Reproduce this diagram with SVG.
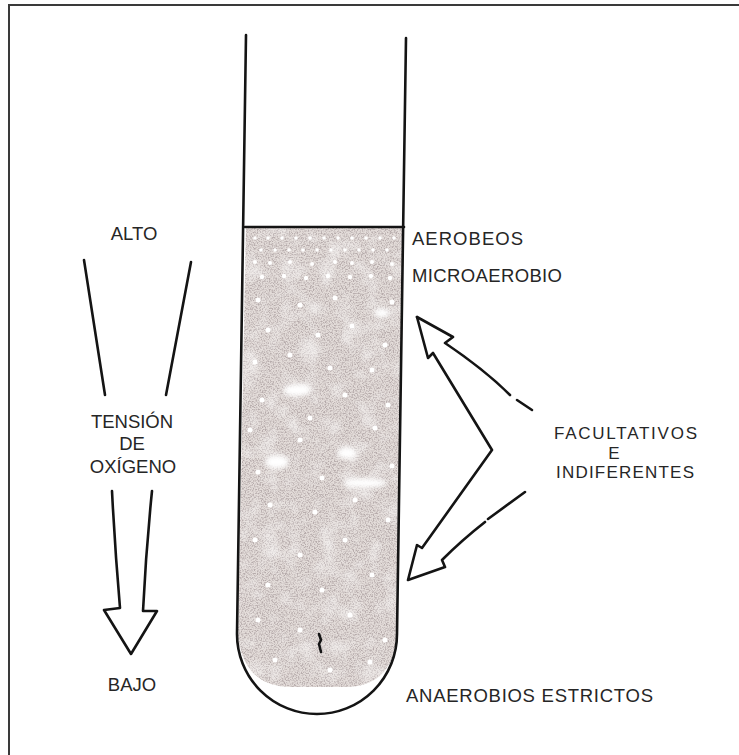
<svg xmlns="http://www.w3.org/2000/svg" width="739" height="755" viewBox="0 0 739 755">
  <style>
    .ink { fill: none; stroke: #141414; stroke-width: 2.6; stroke-linecap: round; stroke-linejoin: round; }
    .lbl { font-family: "Liberation Sans", Arial, sans-serif; font-size: 18.5px; fill: #262626; }
    .sm { font-size: 17px; }
    .mid { text-anchor: middle; }
    .spot { fill: #ffffff; }
  </style>
  <defs>
    <filter id="grain" x="0" y="0" width="1" height="1">
      <feTurbulence type="fractalNoise" baseFrequency="0.75" numOctaves="3" seed="7" result="n"/>
      <feColorMatrix in="n" type="matrix" values="0 0 0 0 0.46  0 0 0 0 0.40  0 0 0 0 0.40  3.2 0 0 0 -1.35"/>
    </filter>
    <filter id="mottle" x="0" y="0" width="1" height="1">
      <feTurbulence type="fractalNoise" baseFrequency="0.05" numOctaves="2" seed="3" result="m"/>
      <feColorMatrix in="m" type="matrix" values="0 0 0 0 1  0 0 0 0 1  0 0 0 0 1  2.6 0 0 0 -1.2"/>
    </filter>
    <filter id="soft" x="-50%" y="-50%" width="200%" height="200%">
      <feGaussianBlur stdDeviation="2.5"/>
    </filter>
    <clipPath id="medium-clip">
      <path d="M246,228 L404,228 L397,636 Q392,687 345,687 L292,687 Q244,687 238,636 Z"/>
    </clipPath>
  </defs>

  <rect width="739" height="755" fill="#ffffff"/>
  <!-- outer frame -->
  <rect x="9" y="5" width="740" height="760" fill="none" stroke="#3a3a3a" stroke-width="2"/>

  <!-- culture medium inside the tube -->
  <g id="medium" clip-path="url(#medium-clip)">
    <rect x="230" y="226" width="180" height="470" fill="#e3dcd9"/>
    <rect x="230" y="226" width="180" height="470" fill="#000" filter="url(#grain)"/>
    <rect x="230" y="226" width="180" height="470" fill="#000" filter="url(#mottle)" opacity="0.5"/>
    <g class="spot">
      <circle cx="255" cy="238" r="1.8"/><circle cx="268" cy="238" r="1.8"/><circle cx="282" cy="238" r="1.8"/><circle cx="296" cy="238" r="1.8"/><circle cx="310" cy="238" r="1.8"/><circle cx="324" cy="238" r="1.8"/><circle cx="338" cy="238" r="1.8"/><circle cx="352" cy="238" r="1.8"/><circle cx="366" cy="238" r="1.8"/><circle cx="380" cy="238" r="1.8"/><circle cx="394" cy="238" r="1.8"/>
      <circle cx="261" cy="250" r="1.8"/><circle cx="275" cy="250" r="1.8"/><circle cx="289" cy="250" r="1.8"/><circle cx="303" cy="250" r="1.8"/><circle cx="317" cy="250" r="1.8"/><circle cx="331" cy="250" r="1.8"/><circle cx="345" cy="250" r="1.8"/><circle cx="359" cy="250" r="1.8"/><circle cx="373" cy="250" r="1.8"/><circle cx="387" cy="250" r="1.8"/>
      <circle cx="255" cy="262" r="2"/><circle cx="270" cy="263" r="2"/><circle cx="290" cy="262" r="2"/><circle cx="312" cy="264" r="2"/><circle cx="335" cy="262" r="2"/><circle cx="352" cy="263" r="2"/><circle cx="372" cy="262" r="2"/><circle cx="392" cy="264" r="2"/>
      <circle cx="262" cy="277" r="2.2"/><circle cx="284" cy="276" r="2.2"/><circle cx="306" cy="278" r="2.2"/><circle cx="328" cy="276" r="2.2"/><circle cx="350" cy="277" r="2.2"/><circle cx="371" cy="276" r="2.2"/><circle cx="390" cy="278" r="2.2"/>
      <circle cx="258" cy="300" r="2.5"/><circle cx="300" cy="305" r="2.5"/><circle cx="335" cy="298" r="2.5"/><circle cx="392" cy="302" r="2.5"/>
      <circle cx="268" cy="330" r="2.5"/><circle cx="318" cy="335" r="2.5"/><circle cx="352" cy="326" r="2.5"/><circle cx="385" cy="345" r="2.5"/>
      <circle cx="255" cy="362" r="2.5"/><circle cx="290" cy="355" r="2.5"/><circle cx="330" cy="368" r="2.5"/><circle cx="372" cy="370" r="2.5"/>
      <circle cx="262" cy="400" r="2.5"/><circle cx="310" cy="418" r="2.5"/><circle cx="345" cy="395" r="2.5"/><circle cx="388" cy="405" r="2.5"/>
      <circle cx="250" cy="430" r="2.5"/><circle cx="300" cy="440" r="2.5"/><circle cx="375" cy="428" r="2.5"/>
      <circle cx="258" cy="472" r="2.5"/><circle cx="322" cy="478" r="2.5"/><circle cx="392" cy="466" r="2.5"/>
      <circle cx="270" cy="505" r="2.5"/><circle cx="315" cy="512" r="2.5"/><circle cx="355" cy="500" r="2.5"/><circle cx="388" cy="520" r="2.5"/>
      <circle cx="255" cy="540" r="2.5"/><circle cx="300" cy="555" r="2.5"/><circle cx="345" cy="540" r="2.5"/>
      <circle cx="268" cy="585" r="2.5"/><circle cx="322" cy="590" r="2.5"/><circle cx="372" cy="575" r="2.5"/>
      <circle cx="258" cy="620" r="2.5"/><circle cx="300" cy="630" r="2.5"/><circle cx="350" cy="615" r="2.5"/><circle cx="385" cy="640" r="2.5"/>
      <circle cx="275" cy="660" r="2.5"/><circle cx="330" cy="670" r="2.5"/><circle cx="370" cy="662" r="2.5"/>
    </g>
    <g class="spot" filter="url(#soft)">
      <ellipse cx="297" cy="390" rx="14" ry="6"/>
      <ellipse cx="277" cy="462" rx="12" ry="7"/>
      <ellipse cx="347" cy="453" rx="10" ry="6"/>
      <ellipse cx="365" cy="483" rx="22" ry="5"/>
      <ellipse cx="382" cy="313" rx="8" ry="5"/>
    </g>
  </g>

  <!-- test tube -->
  <g id="tube">
    <path class="ink" d="M246,35 L237,634 A80,80 0 0 0 397,634 L406,38"/>
    <line class="ink" x1="245" y1="227" x2="404" y2="227" stroke-width="2.8"/>
    <path class="ink" d="M319,634 l2,6 l-2,4 l2,8" stroke-width="2.4"/>
  </g>

  <!-- oxygen tension arrow -->
  <g id="oxygen-arrow">
    <path class="ink" d="M84,260 L105,395"/>
    <path class="ink" d="M191,262 Q178,330 166,395"/>
    <path class="ink" d="M112,491 Q115,550 120,608 L104,610 L131,654 L157,611 L143,611 Q146,550 152,491"/>
  </g>

  <!-- facultative double arrow -->
  <g id="facultative-arrow">
    <path class="ink" d="M417,317 L453,337 L445,343 Q485,370 510,395"/>
    <path class="ink" d="M517,400 L532,410"/>
    <path class="ink" d="M417,317 L428,358 L433,353 L492,450 L422,548 L417,545 L408,580 L445,567 L442,560 Q462,540 485,522"/>
    <path class="ink" d="M488,519 L525,492"/>
  </g>

  <!-- labels -->
  <g id="labels">
    <text class="lbl mid" x="134" y="240">ALTO</text>
    <text class="lbl mid" x="132" y="428">TENSIÓN</text>
    <text class="lbl mid" x="132" y="450">DE</text>
    <text class="lbl mid" x="133" y="473">OXÍGENO</text>
    <text class="lbl mid" x="132" y="691">BAJO</text>
    <text class="lbl" x="412" y="245" textLength="111">AEROBEOS</text>
    <text class="lbl" x="412" y="282" textLength="150">MICROAEROBIO</text>
    <text class="lbl sm" x="554" y="439" textLength="143">FACULTATIVOS</text>
    <text class="lbl sm mid" x="614" y="458.5">E</text>
    <text class="lbl sm" x="556" y="478" textLength="138">INDIFERENTES</text>
    <text class="lbl" x="406" y="702" textLength="247">ANAEROBIOS ESTRICTOS</text>
  </g>
</svg>
